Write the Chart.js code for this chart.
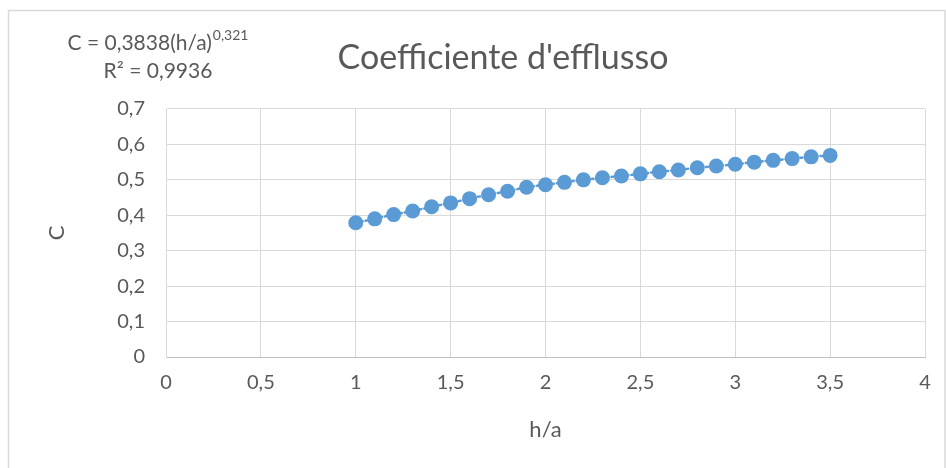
<!DOCTYPE html>
<html>
<head>
<meta charset="utf-8">
<script src="https://cdn.jsdelivr.net/npm/chart.js@4.4.1/dist/chart.umd.min.js"></script>
<style>
  html, body { margin: 0; padding: 0; background: #ffffff; }
  #wrap { width: 946px; height: 468px; position: relative; }
</style>
</head>
<body>
<div id="wrap"><canvas id="c" width="946" height="468"></canvas></div>
<script>
// ---- data ----
const hA = [1.0, 1.1, 1.2, 1.3, 1.4, 1.5, 1.6, 1.7, 1.8, 1.9, 2.0, 2.1, 2.2, 2.3, 2.4, 2.5, 2.6, 2.7, 2.8, 2.9, 3.0, 3.1, 3.2, 3.3, 3.4, 3.5];
const C  = [0.379, 0.390, 0.402, 0.412, 0.424, 0.435, 0.447, 0.458, 0.468, 0.479, 0.486, 0.493, 0.500, 0.506, 0.511, 0.517, 0.523, 0.528, 0.534, 0.539, 0.544, 0.550, 0.555, 0.560, 0.565, 0.569];
const xTickLabels = ['0', '0,5', '1', '1,5', '2', '2,5', '3', '3,5', '4'];
const yTickLabels = ['0', '0,1', '0,2', '0,3', '0,4', '0,5', '0,6', '0,7'];
const chartTitle = "Coefficiente d'efflusso";
const xTitle = 'h/a';
const yTitle = 'C';
const eqMain = 'C = 0,3838(h/a)';
const eqExp = '0,321';
const eqR2 = 'R² = 0,9936';

const FONT = "Lato, 'Open Sans', sans-serif";
const TXT = '#595959';
const BLUE = '#5B9BD5';
const GRID = '#D9D9D9';

const points = hA.map((x, i) => ({ x: x, y: C[i] }));

const framePlugin = {
  id: 'frame',
  beforeDraw(chart) {
    const ctx = chart.ctx;
    ctx.save();
    ctx.fillStyle = '#ffffff';
    ctx.fillRect(0, 0, chart.width, chart.height);
    ctx.strokeStyle = GRID;
    ctx.lineWidth = 1.5;
    ctx.strokeRect(8.5, 10.5, 936.5, 500);
    ctx.restore();
  },
  afterDraw(chart) {
    const ctx = chart.ctx;
    ctx.save();
    ctx.fillStyle = TXT;
    // chart title
    ctx.font = '34px ' + FONT;
    ctx.textAlign = 'center';
    ctx.textBaseline = 'middle';
    ctx.fillText(chartTitle, 503, 58);
    // trendline equation, line 1 with superscript
    ctx.textAlign = 'left';
    ctx.textBaseline = 'alphabetic';
    ctx.font = '21px ' + FONT;
    const w1 = ctx.measureText(eqMain).width;
    ctx.font = '14px ' + FONT;
    const w2 = ctx.measureText(eqExp).width;
    const cx = 158;
    const x0 = cx - (w1 + w2 + 1) / 2;
    ctx.font = '21px ' + FONT;
    ctx.fillText(eqMain, x0, 50);
    ctx.font = '14px ' + FONT;
    ctx.fillText(eqExp, x0 + w1 + 1, 40);
    // line 2
    ctx.font = '21px ' + FONT;
    ctx.textAlign = 'center';
    ctx.fillText(eqR2, cx, 78);
    ctx.restore();
  }
};

new Chart(document.getElementById('c'), {
  type: 'scatter',
  data: {
    datasets: [
      {
        label: 'C',
        data: points,
        backgroundColor: BLUE,
        borderColor: BLUE,
        borderWidth: 0,
        pointRadius: 7.5,
        pointHoverRadius: 7.5,
        showLine: false,
        order: 1
      },
      {
        label: 'trend',
        data: points,
        showLine: true,
        borderColor: BLUE,
        borderWidth: 2.5,
        borderDash: [2, 3],
        borderCapStyle: 'round',
        pointRadius: 0,
        fill: false,
        tension: 0.4,
        order: 2
      }
    ]
  },
  plugins: [framePlugin],
  options: {
    responsive: false,
    animation: false,
    events: [],
    layout: { padding: { top: 109, right: 21, left: 0, bottom: 0 } },
    plugins: {
      legend: { display: false },
      tooltip: { enabled: false },
      title: { display: false }
    },
    scales: {
      x: {
        type: 'linear',
        min: 0, max: 4,
        afterFit(s) { s.height = 111; },
        afterBuildTicks(s) { s.ticks = xTickLabels.map((t, i) => ({ value: i * 0.5 })); },
        ticks: {
          color: TXT,
          font: { family: FONT, size: 20 },
          padding: 14,
          maxRotation: 0,
          autoSkip: false,
          callback: (v, i) => xTickLabels[i]
        },
        grid: { color: GRID, lineWidth: 1, drawTicks: false },
        border: { color: '#BFBFBF', width: 1 },
        title: {
          display: true, text: xTitle, color: TXT,
          font: { family: FONT, size: 22 },
          padding: { top: 0, bottom: 25 }
        }
      },
      y: {
        type: 'linear',
        min: 0, max: 0.7,
        afterFit(s) { s.width = 166; },
        afterBuildTicks(s) { s.ticks = yTickLabels.map((t, i) => ({ value: i * 0.1 })); },
        ticks: {
          color: TXT,
          font: { family: FONT, size: 20 },
          padding: 21,
          autoSkip: false,
          callback: (v, i) => yTickLabels[i]
        },
        grid: { color: GRID, lineWidth: 1, drawTicks: false },
        border: { color: GRID, width: 1 },
        title: {
          display: true, text: yTitle, color: TXT,
          font: { family: FONT, size: 22 },
          padding: { top: 44, bottom: 0 }
        }
      }
    }
  }
});
</script>
</body>
</html>
